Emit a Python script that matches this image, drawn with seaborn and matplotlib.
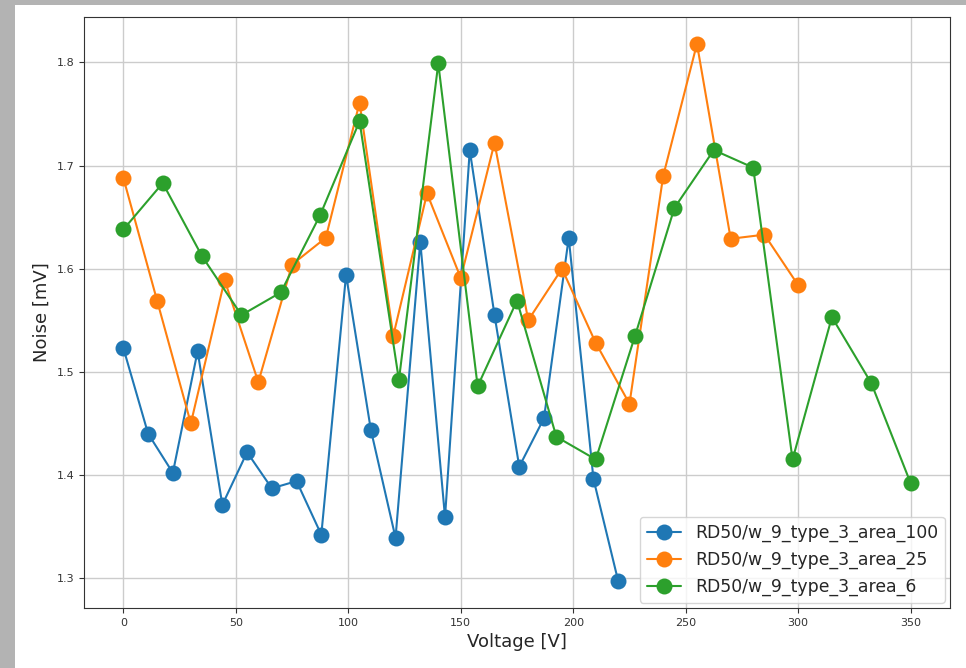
import pandas as pd
import numpy as np
import matplotlib
matplotlib.use('Agg')
import matplotlib.pyplot as plt
import seaborn as sns
from matplotlib.patches import Rectangle

# Series
voltage_100 = [0, 11, 22, 33, 44, 55, 66, 77, 88, 99, 110, 121, 132, 143, 154, 165, 176, 187, 198, 209, 220]
noise_100 = [1.523, 1.440, 1.402, 1.520, 1.371, 1.422, 1.387, 1.394, 1.342, 1.594, 1.444,
             1.339, 1.626, 1.359, 1.715, 1.555, 1.408, 1.455, 1.630, 1.396, 1.297]

voltage_25 = [0, 15, 30, 45, 60, 75, 90, 105, 120, 135, 150, 165, 180, 195, 210, 225, 240, 255, 270, 285, 300]
noise_25 = [1.688, 1.569, 1.450, 1.589, 1.490, 1.604, 1.630, 1.761, 1.535, 1.673, 1.591,
            1.722, 1.550, 1.600, 1.528, 1.469, 1.690, 1.818, 1.629, 1.633, 1.584]

voltage_6 = [0, 17.5, 35, 52.5, 70, 87.5, 105, 122.5, 140, 157.5, 175, 192.5, 210, 227.5,
             245, 262.5, 280, 297.5, 315, 332.5, 350]
noise_6 = [1.638, 1.683, 1.612, 1.555, 1.577, 1.652, 1.743, 1.492, 1.799, 1.486, 1.569,
           1.437, 1.415, 1.535, 1.659, 1.715, 1.698, 1.415, 1.553, 1.489, 1.392]

labels = ['RD50/w_9_type_3_area_100', 'RD50/w_9_type_3_area_25', 'RD50/w_9_type_3_area_6']

df = pd.concat([
    pd.DataFrame({'Voltage': voltage_100, 'Noise': noise_100, 'sensor': labels[0]}),
    pd.DataFrame({'Voltage': voltage_25, 'Noise': noise_25, 'sensor': labels[1]}),
    pd.DataFrame({'Voltage': voltage_6, 'Noise': noise_6, 'sensor': labels[2]}),
], ignore_index=True)

sns.set_style('ticks')
fig = plt.figure(figsize=(9.66, 6.68), dpi=100, facecolor='#b3b3b3')
# white canvas with the grey screenshot border on left and top
fig.patches.append(Rectangle((15 / 966, 0), 1, 1 - 5 / 668, transform=fig.transFigure,
                             facecolor='white', edgecolor='none', zorder=-10))
ax = fig.add_axes([84 / 966, 1 - 608 / 668, (950 - 84) / 966, (608 - 17) / 668])

sns.lineplot(data=df, x='Voltage', y='Noise', hue='sensor', hue_order=labels,
             palette=['#1f77b4', '#ff7f0e', '#2ca02c'], marker='o', markersize=11.5,
             markeredgewidth=0, linewidth=1.5, sort=False, ax=ax)

ax.grid(True, color='#cccccc', linewidth=1)
ax.set_axisbelow(True)
for s in ax.spines.values():
    s.set_color('#333333')
ax.tick_params(labelsize=8, colors='#333333')
ax.set_xlabel('Voltage [V]', fontsize=13)
ax.set_ylabel('Noise [mV]', fontsize=13)
ax.set_xticks([0, 50, 100, 150, 200, 250, 300, 350])
ax.set_yticks([1.3, 1.4, 1.5, 1.6, 1.7, 1.8])
ax.legend(title=None, loc='lower right', fontsize=12.4, borderaxespad=0.3)

fig.savefig('out.png', dpi=100, facecolor=fig.get_facecolor())
